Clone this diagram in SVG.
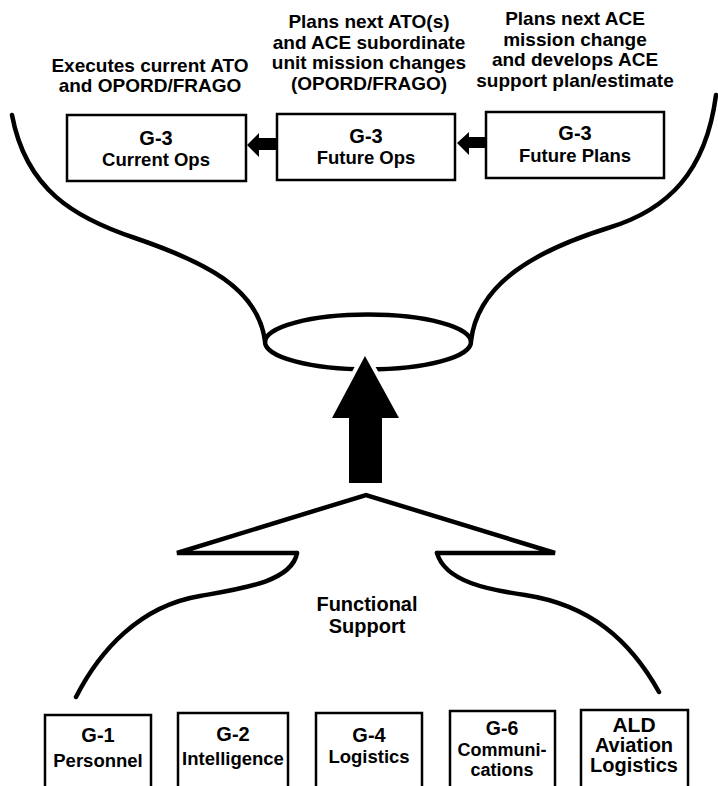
<svg xmlns="http://www.w3.org/2000/svg" width="718" height="786" viewBox="0 0 718 786">
<style>
  text { font-family: "Liberation Sans", Arial, Helvetica, sans-serif; font-weight: bold; fill: #000; text-anchor: middle; }
  .lbl { font-size: 19px; }
  .ttl { font-size: 20px; }
  .sub { font-size: 18.5px; }
  .box { fill: #fff; stroke: #000; stroke-width: 2.5; }
  .curve { fill: none; stroke: #000; stroke-width: 4.5; stroke-linecap: round; stroke-linejoin: miter; }
  .arr { fill: #000; stroke: none; }
</style>
<rect width="718" height="786" fill="#fff"/>

<g id="outline">
  <path class="curve" d="M12,115 C26,190 75,218 135,238 C205,262 258,288 265,341"/>
  <path class="curve" d="M716,95 C706,172 668,210 608,228 C538,250 478,282 471,341"/>
  <ellipse class="curve" cx="368" cy="342" rx="103" ry="27.5"/>
  <path class="curve" d="M297,553 L177,553 L366,495 L555,553 L437,553"/>
  <path class="curve" d="M297,553 C292,582 240,589 200,596 C140,606 100,650 76,697"/>
  <path class="curve" d="M437,553 C445,582 490,590 525,595 C590,605 630,640 659,692"/>
</g>

<g id="labels">
  <text class="lbl" x="150" y="72">Executes current ATO</text>
  <text class="lbl" x="150" y="92">and OPORD/FRAGO</text>
  <text class="lbl" x="369" y="28">Plans next ATO(s)</text>
  <text class="lbl" x="369" y="49">and ACE subordinate</text>
  <text class="lbl" x="369" y="69">unit mission changes</text>
  <text class="lbl" x="369" y="90">(OPORD/FRAGO)</text>
  <text class="lbl" x="575" y="25">Plans next ACE</text>
  <text class="lbl" x="575" y="46">mission change</text>
  <text class="lbl" x="575" y="66">and develops ACE</text>
  <text class="lbl" x="575" y="87">support plan/estimate</text>
  <text class="lbl" x="367" y="611" style="font-size:20px">Functional</text>
  <text class="lbl" x="367" y="633" style="font-size:20px">Support</text>
</g>

<g id="current-ops">
  <rect class="box" x="67" y="115" width="179" height="66"/>
  <text class="ttl" x="156" y="145">G-3</text>
  <text class="sub" x="156" y="166">Current Ops</text>
</g>
<g id="future-ops">
  <rect class="box" x="277" y="114" width="178" height="66"/>
  <text class="ttl" x="366" y="143">G-3</text>
  <text class="sub" x="366" y="164">Future Ops</text>
</g>
<g id="future-plans">
  <rect class="box" x="486" y="112" width="178" height="66"/>
  <text class="ttl" x="575" y="140">G-3</text>
  <text class="sub" x="575" y="162">Future Plans</text>
</g>

<g id="g1">
  <rect class="box" x="45" y="715" width="106" height="90"/>
  <text class="ttl" x="98" y="742">G-1</text>
  <text class="sub" x="98" y="767">Personnel</text>
</g>
<g id="g2">
  <rect class="box" x="178" y="713" width="110" height="90"/>
  <text class="ttl" x="233" y="741">G-2</text>
  <text class="sub" x="233" y="765">Intelligence</text>
</g>
<g id="g4">
  <rect class="box" x="316" y="713" width="106" height="90"/>
  <text class="ttl" x="369" y="742">G-4</text>
  <text class="sub" x="369" y="763">Logistics</text>
</g>
<g id="g6">
  <rect class="box" x="450" y="711" width="105" height="90"/>
  <text class="ttl" x="502" y="735" style="font-size:19.5px">G-6</text>
  <text class="sub" x="502" y="756" style="font-size:18px">Communi-</text>
  <text class="sub" x="502" y="776" style="font-size:18px">cations</text>
</g>
<g id="ald">
  <rect class="box" x="581" y="710" width="107" height="90"/>
  <text class="ttl" x="634" y="732" style="font-size:21px">ALD</text>
  <text class="sub" x="634" y="752" style="font-size:20px">Aviation</text>
  <text class="sub" x="634" y="772" style="font-size:20px">Logistics</text>
</g>

<g id="connectors">
  <polygon class="arr" points="247,145 259,133 259,138 277,138 277,150 259,150 259,157"/>
  <polygon class="arr" points="457,143 469,132 469,137 486,137 486,148 469,148 469,155"/>
  <polygon points="365,356 399,418 382,418 382,483 349,483 349,418 332,418" fill="#fff" stroke="#fff" stroke-width="8" stroke-linejoin="round"/>
  <polygon class="arr" points="365,356 399,418 382,418 382,483 349,483 349,418 332,418"/>
</g>
</svg>
